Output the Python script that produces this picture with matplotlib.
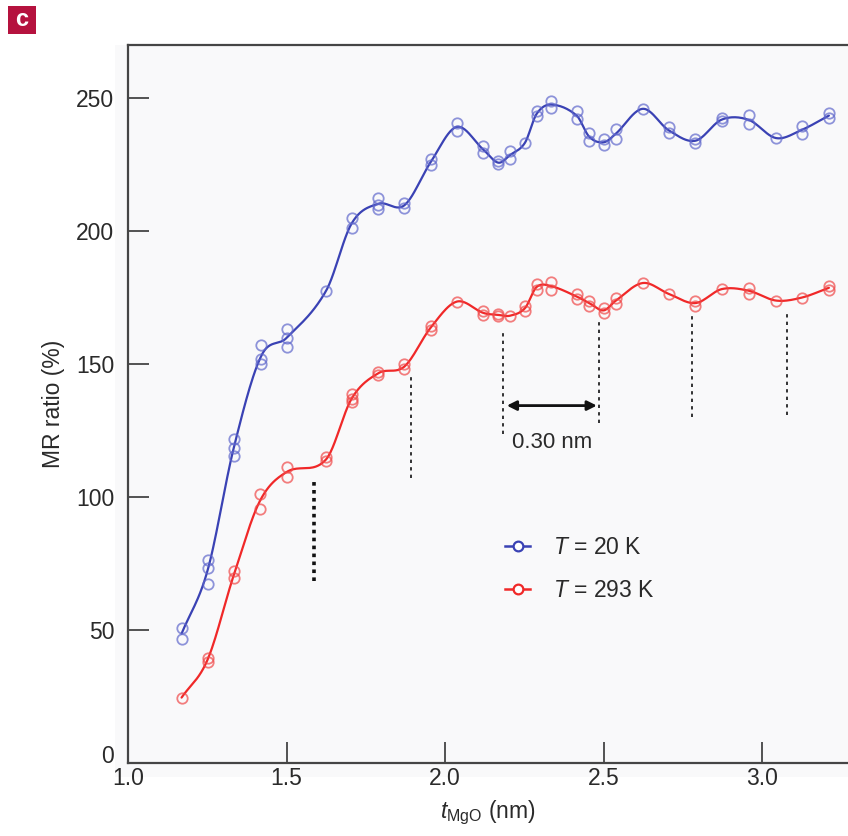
import numpy as np
import matplotlib
matplotlib.use("Agg")
import matplotlib.pyplot as plt
import matplotlib.transforms as mtransforms
from matplotlib.patches import Rectangle
from matplotlib.lines import Line2D

# ---------------- data ----------------
x20 = [1.169, 1.169, 1.251, 1.251, 1.251, 1.334, 1.334, 1.334, 1.42, 1.42, 1.42,
       1.50, 1.50, 1.50, 1.625, 1.706, 1.706, 1.79, 1.79, 1.79, 1.872, 1.872,
       1.955, 1.955, 2.037, 2.037, 2.121, 2.121, 2.168, 2.168, 2.205, 2.205,
       2.252, 2.289, 2.289, 2.334, 2.334, 2.415, 2.415, 2.455, 2.455, 2.50, 2.50,
       2.538, 2.538, 2.624, 2.706, 2.706, 2.79, 2.79, 2.873, 2.873, 2.958, 2.958,
       3.044, 3.125, 3.125, 3.211, 3.211]
y20 = [50.7, 46.6, 76.3, 73.4, 67.5, 122.0, 118.6, 115.5, 157.0, 152.0, 150.0,
       163.2, 160.0, 156.3, 177.6, 205.0, 201.0, 212.6, 210.0, 208.3, 210.7, 208.8,
       227.0, 225.0, 240.8, 237.6, 232.0, 229.3, 226.4, 225.1, 230.0, 227.2,
       233.2, 245.0, 243.2, 248.9, 246.3, 245.0, 242.0, 237.0, 234.0, 234.5, 232.3,
       238.3, 234.8, 246.0, 239.0, 236.8, 234.8, 233.2, 242.6, 241.3, 243.5, 240.2,
       235.0, 239.5, 236.6, 244.3, 242.6]

x293 = [1.169, 1.251, 1.251, 1.334, 1.334, 1.416, 1.416, 1.50, 1.50, 1.625, 1.625,
        1.706, 1.706, 1.706, 1.79, 1.79, 1.872, 1.872, 1.955, 1.955, 2.037,
        2.121, 2.121, 2.168, 2.168, 2.205, 2.252, 2.252, 2.289, 2.289, 2.334, 2.334,
        2.415, 2.415, 2.455, 2.455, 2.50, 2.50, 2.538, 2.538, 2.624, 2.706,
        2.79, 2.79, 2.873, 2.958, 2.958, 3.044, 3.125, 3.211, 3.211]
y293 = [24.6, 39.6, 38.1, 72.2, 69.4, 101.3, 95.7, 111.3, 107.5, 115.0, 113.4,
        138.8, 136.9, 135.7, 147.2, 146.0, 150.0, 148.2, 164.5, 163.0, 173.5,
        170.0, 168.5, 169.0, 168.0, 168.2, 172.0, 170.0, 180.0, 178.0, 180.7, 178.0,
        176.4, 174.5, 173.9, 172.0, 171.0, 169.4, 175.0, 172.6, 180.5, 176.4,
        173.9, 172.0, 178.2, 178.8, 176.4, 173.9, 175.0, 179.4, 178.0]

# guide lines (x position, y start, y end)
guide_x = [1.588, 1.892, 2.182, 2.487, 2.778, 3.078]
guide_y0 = [68.4, 107.1, 123.8, 128.0, 130.1, 131.0]
guide_y1 = [106.3, 146.0, 162.5, 166.7, 168.9, 169.7]
arrow_x = [2.195, 2.479]
arrow_y = 134.4
arrow_label = "0.30 nm"

labels = ["$T$ = 20 K", "$T$ = 293 K"]
xticks = [1.0, 1.5, 2.0, 2.5, 3.0]
yticks = [0, 50, 100, 150, 200, 250]

# ---------------- style ----------------
FONT = ["Liberation Sans Narrow", "Liberation Sans", "DejaVu Sans"]
plt.rcParams["font.family"] = FONT
plt.rcParams["mathtext.fontset"] = "custom"
plt.rcParams["mathtext.rm"] = "Liberation Sans"
plt.rcParams["mathtext.it"] = "Liberation Sans:italic"

BLUE_L = "#3a42b4"
BLUE_M = "#6068cc"
RED_L = "#f02828"
RED_M = "#f04848"
TXT = "#2a2a2a"
SPINE = "#454545"


def smooth(xs, ys, n=24):
    xs = np.asarray(xs)
    ys = np.asarray(ys)
    ux = np.unique(xs)
    um = np.array([ys[xs == u].mean() for u in ux])
    k = len(ux)
    d = np.zeros(k)
    for i in range(k):
        if i == 0:
            d[i] = (um[1] - um[0]) / (ux[1] - ux[0])
        elif i == k - 1:
            d[i] = (um[-1] - um[-2]) / (ux[-1] - ux[-2])
        else:
            d[i] = (um[i + 1] - um[i - 1]) / (ux[i + 1] - ux[i - 1])
    X, Y = [], []
    for i in range(k - 1):
        h = ux[i + 1] - ux[i]
        t = np.linspace(0, 1, n, endpoint=False)
        h00 = 2 * t**3 - 3 * t**2 + 1
        h10 = t**3 - 2 * t**2 + t
        h01 = -2 * t**3 + 3 * t**2
        h11 = t**3 - t**2
        X.append(ux[i] + t * h)
        Y.append(h00 * um[i] + h10 * h * d[i] + h01 * um[i + 1] + h11 * h * d[i + 1])
    X.append([ux[-1]])
    Y.append([um[-1]])
    return np.concatenate(X), np.concatenate(Y)


W, H = 848, 836
fig = plt.figure(figsize=(W / 100, H / 100), dpi=100)
fig.patch.set_facecolor("white")

# light gray panel background
fig.patches.append(Rectangle((115 / W, 1 - 777 / H), (W - 115) / W, (777 - 45) / H,
                             transform=fig.transFigure, facecolor="#f9f9fa",
                             edgecolor="none", zorder=-5))

ax = fig.add_axes([128 / W, 1 - 763 / H, (W - 128) / W, (763 - 45) / H])
ax.set_facecolor("#f9f9fa")

for xs, ys, lc, mc in [(x20, y20, BLUE_L, BLUE_M), (x293, y293, RED_L, RED_M)]:
    sx, sy = smooth(xs, ys)
    ax.plot(sx, sy, color=lc, lw=1.6, zorder=3, solid_capstyle="round")
    ax.plot(xs, ys, linestyle="none", marker="o", ms=7.5, mfc="none",
            mec=mc, mew=1.3, alpha=0.7, zorder=4)

# guide lines
for i, (gx, g0, g1) in enumerate(zip(guide_x, guide_y0, guide_y1)):
    lw = 2.6 if i == 0 else 1.2
    ls = (0, (1.0, 1.2)) if i == 0 else (0, (2.0, 2.5))
    ax.plot([gx, gx], [g0, g1], color="#111111", lw=lw, linestyle=ls, zorder=2)

ax.annotate("", xy=(arrow_x[0], arrow_y), xytext=(arrow_x[1], arrow_y),
            arrowprops=dict(arrowstyle="<|-|>", color="#111111", lw=2.0,
                            mutation_scale=14, shrinkA=0, shrinkB=0))
ax.text(sum(arrow_x) / 2, 120.5, arrow_label, ha="center", va="center",
        fontsize=16, color=TXT)

ax.set_xlim(1.0, 1.0 + (W - 128) / 317)
ax.set_ylim(0, 270)
ax.set_xticks(xticks)
ax.set_xticklabels([f"{v:.1f}" for v in xticks])
ax.set_yticks(yticks)
ax.set_yticklabels([str(v) for v in yticks])
ax.tick_params(direction="in", length=15, width=1.3, color=SPINE,
               labelsize=16.5, labelcolor=TXT)
ax.tick_params(axis="x", pad=3)
ax.tick_params(axis="y", pad=10)
ax.yaxis.get_major_ticks()[0].tick1line.set_visible(False)

# lift the "0" label slightly, as in the original
fig.canvas.draw()
zero_lbl = ax.get_yticklabels()[0]
zero_lbl.set_transform(zero_lbl.get_transform() +
                       mtransforms.ScaledTranslation(0, 9 / 100, fig.dpi_scale_trans))

for s in ["left", "bottom", "top"]:
    ax.spines[s].set_color(SPINE)
    ax.spines[s].set_linewidth(1.6)
ax.spines["right"].set_visible(False)

ax.set_ylabel("MR ratio (%)", fontsize=16.5, color=TXT, labelpad=8)
ax.set_xlabel(r"$t_{\mathrm{MgO}}$ (nm)", fontsize=16.5, color=TXT, labelpad=6)

handles = [
    Line2D([], [], color=BLUE_L, lw=1.8, marker="o", ms=7, mfc="white", mec=BLUE_L, mew=1.6),
    Line2D([], [], color=RED_L, lw=1.8, marker="o", ms=7, mfc="white", mec=RED_L, mew=1.6),
]
ax.legend(handles, labels, loc="center left", bbox_to_anchor=(0.495, 0.27),
          frameon=False, fontsize=16.5, handlelength=1.1, handletextpad=1.0,
          labelspacing=0.85, labelcolor=TXT)

# panel label
fig.patches.append(Rectangle((8 / W, 1 - 34 / H), 28 / W, 28 / H,
                             transform=fig.transFigure, facecolor="#b5123e",
                             edgecolor="none", zorder=5))
fig.text(22 / W, 1 - 20 / H, "c", color="white", fontsize=17, fontweight="bold",
         ha="center", va="center", family=["Liberation Sans", "DejaVu Sans"], zorder=6)

fig.savefig("out.png", dpi=100)
